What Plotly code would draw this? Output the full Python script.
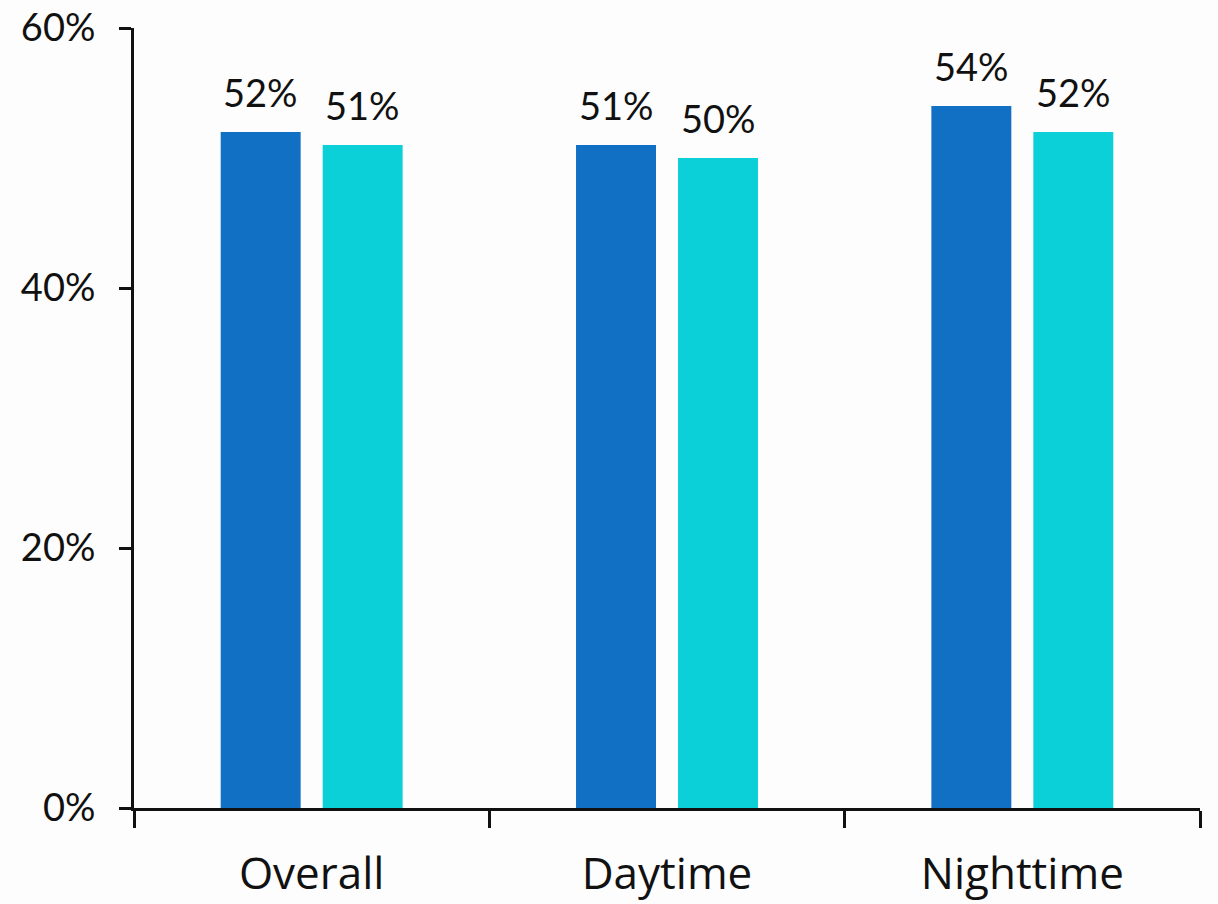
import plotly.graph_objects as go

categories = ["Overall", "Daytime", "Nighttime"]
series_a = [52, 51, 54]
series_b = [51, 50, 52]
y_ticks = [0, 20, 40, 60]
y_tick_labels = ["0%", "20%", "40%", "60%"]

blue = "#1170C4"
cyan = "#0CD0D8"
font_family = "Lato, 'Open Sans', sans-serif"
cat_font_family = "'Open Sans', Lato, sans-serif"

fig = go.Figure()
fig.add_trace(go.Bar(x=categories, y=series_a, marker=dict(color=blue, line=dict(width=0)),
                     name="A", hoverinfo="skip"))
fig.add_trace(go.Bar(x=categories, y=series_b, marker=dict(color=cyan, line=dict(width=0)),
                     name="B", hoverinfo="skip"))

# value labels above each bar, shifted to the bar's slot in the group
for vals, shift in ((series_a, -51), (series_b, 51)):
    for cat, v in zip(categories, vals):
        fig.add_annotation(x=cat, y=v, text=f"{v}%", showarrow=False,
                           xref="x", yref="y", xanchor="center", yanchor="bottom",
                           xshift=shift, yshift=15,
                           font=dict(family=font_family, size=38, color="#111111"))

fig.update_layout(
    width=1218, height=904,
    margin=dict(l=134, r=18, t=28, b=96, autoexpand=False),
    paper_bgcolor="#fdfdfd", plot_bgcolor="#fdfdfd",
    barmode="group", bargap=0.426, bargroupgap=0.216,
    showlegend=False,
    font=dict(family=font_family, color="#111111"),
)
fig.update_xaxes(
    type="category", range=[-0.5, 2.5], automargin=False,
    showline=True, linecolor="#111111", linewidth=3,
    ticks="outside", tickson="boundaries", ticklen=17, tickwidth=3, tickcolor="#111111",
    tickfont=dict(family=cat_font_family, size=44, color="#111111"),
    ticklabelstandoff=25,
    showgrid=False, zeroline=False,
)
fig.update_yaxes(
    range=[0, 60], tickvals=y_ticks, ticktext=y_tick_labels, automargin=False,
    showline=True, linecolor="#111111", linewidth=3,
    ticks="outside", ticklen=12, tickwidth=3, tickcolor="#111111",
    tickfont=dict(family=font_family, size=38, color="#111111"),
    ticklabelstandoff=16,
    showgrid=False, zeroline=False,
)

fig.write_html("out.html")
